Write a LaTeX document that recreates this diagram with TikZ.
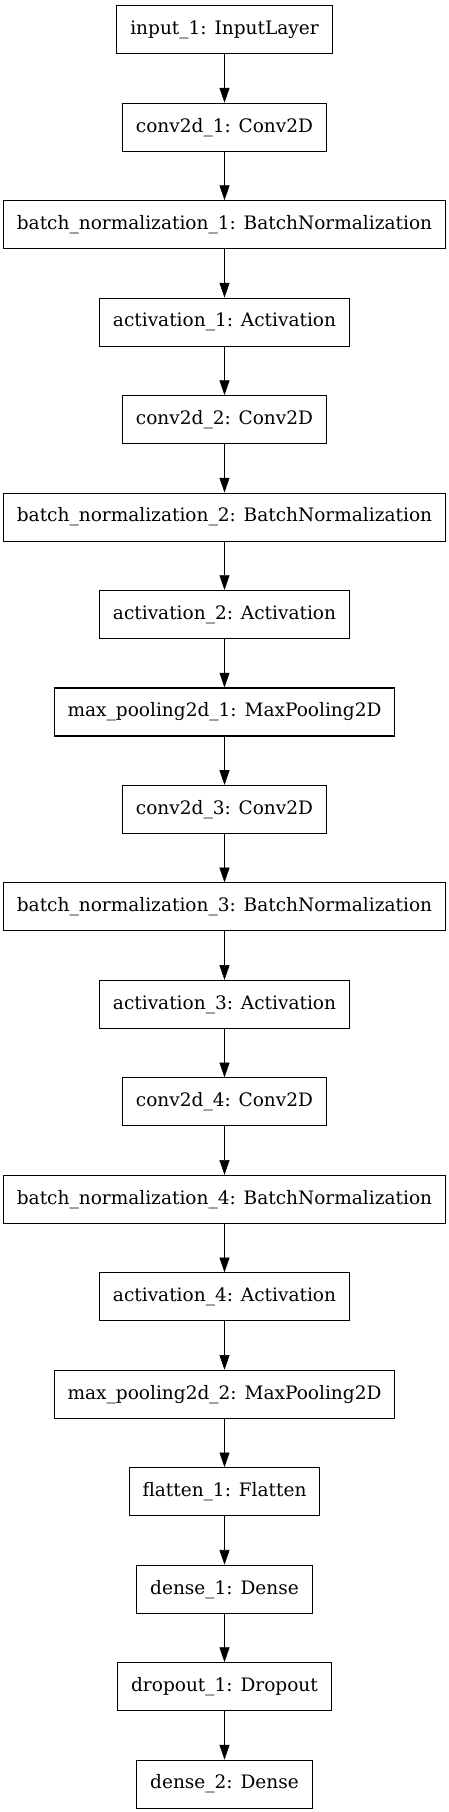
\documentclass[tikz,border=0pt]{standalone}
\usepackage{fontspec}
\setmainfont{DejaVu Serif}
\usetikzlibrary{arrows.meta, positioning}

\begin{document}
\begin{tikzpicture}[>={Triangle[length=11pt, width=7.5pt]}, x=.75pt, y=.75pt, node distance=36.3pt, font=\fontsize{13.9}{16}\selectfont,
  layer/.style={draw, line width=.8pt, minimum height=36pt, inner xsep=10pt}]
\useasboundingbox (0,0) rectangle (449,-1812);
%
\node[layer] (input1) at (224.5,-29.7) {input\_1: InputLayer};
\node[layer, below=of input1] (conv1) {conv2d\_1: Conv2D};
\node[layer, below=of conv1] (bn1) {batch\_normalization\_1: BatchNormalization};
\node[layer, below=of bn1] (act1) {activation\_1: Activation};
\node[layer, below=of act1] (conv2) {conv2d\_2: Conv2D};
\node[layer, below=of conv2] (bn2) {batch\_normalization\_2: BatchNormalization};
\node[layer, below=of bn2] (act2) {activation\_2: Activation};
\node[layer, below=of act2] (pool1) {max\_pooling2d\_1: MaxPooling2D};
\node[layer, below=of pool1] (conv3) {conv2d\_3: Conv2D};
\node[layer, below=of conv3] (bn3) {batch\_normalization\_3: BatchNormalization};
\node[layer, below=of bn3] (act3) {activation\_3: Activation};
\node[layer, below=of act3] (conv4) {conv2d\_4: Conv2D};
\node[layer, below=of conv4] (bn4) {batch\_normalization\_4: BatchNormalization};
\node[layer, below=of bn4] (act4) {activation\_4: Activation};
\node[layer, below=of act4] (pool2) {max\_pooling2d\_2: MaxPooling2D};
\node[layer, below=of pool2] (flat1) {flatten\_1: Flatten};
\node[layer, below=of flat1] (dense1) {dense\_1: Dense};
\node[layer, below=of dense1] (drop1) {dropout\_1: Dropout};
\node[layer, below=of drop1] (dense2) {dense\_2: Dense};
%
\draw[->] (input1) -- (conv1);
\draw[->] (conv1) -- (bn1);
\draw[->] (bn1) -- (act1);
\draw[->] (act1) -- (conv2);
\draw[->] (conv2) -- (bn2);
\draw[->] (bn2) -- (act2);
\draw[->] (act2) -- (pool1);
\draw[->] (pool1) -- (conv3);
\draw[->] (conv3) -- (bn3);
\draw[->] (bn3) -- (act3);
\draw[->] (act3) -- (conv4);
\draw[->] (conv4) -- (bn4);
\draw[->] (bn4) -- (act4);
\draw[->] (act4) -- (pool2);
\draw[->] (pool2) -- (flat1);
\draw[->] (flat1) -- (dense1);
\draw[->] (dense1) -- (drop1);
\draw[->] (drop1) -- (dense2);
\end{tikzpicture}
\end{document}
